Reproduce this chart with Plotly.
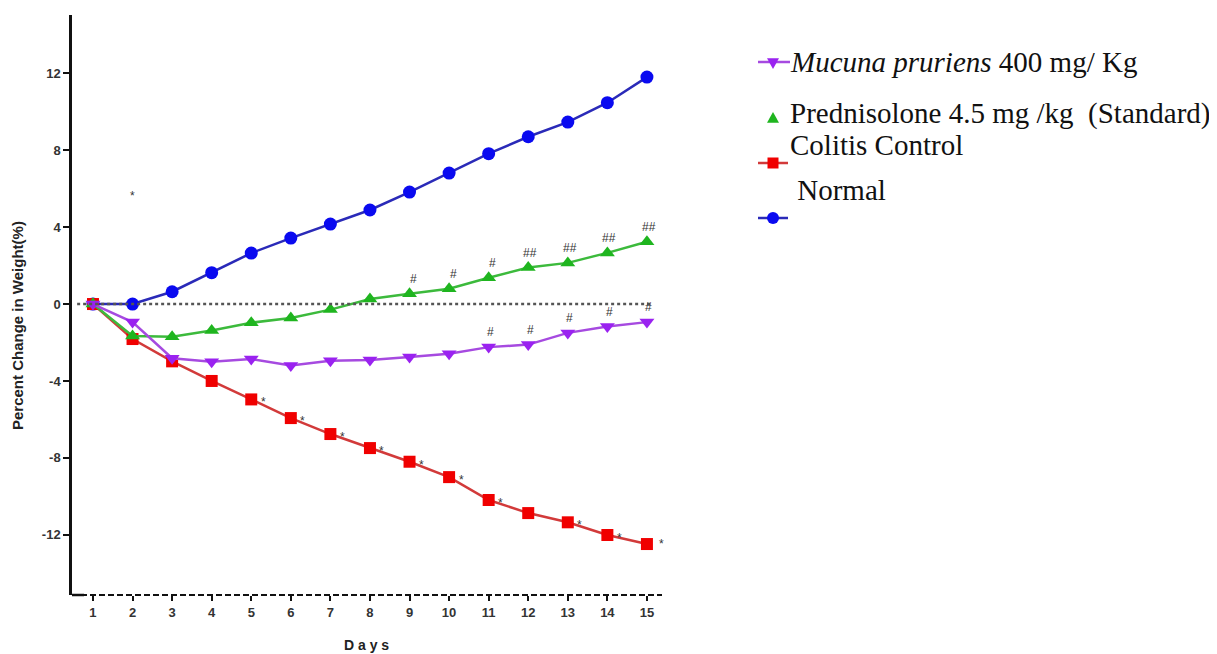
import plotly.graph_objects as go

# ---------------- data ----------------
days = list(range(1, 16))
normal = [0, 0, 0.64, 1.63, 2.65, 3.43, 4.16, 4.89, 5.82, 6.81, 7.82, 8.70, 9.46, 10.47, 11.8]
prednisolone = [0, -1.66, -1.70, -1.38, -0.97, -0.73, -0.29, 0.26, 0.54, 0.80, 1.37, 1.90, 2.14, 2.66, 3.24]
mucuna = [0, -0.94, -2.82, -3.0, -2.86, -3.2, -2.95, -2.91, -2.76, -2.58, -2.24, -2.11, -1.50, -1.17, -0.94]
colitis = [0, -1.82, -2.98, -4.0, -4.96, -5.93, -6.76, -7.49, -8.2, -9.0, -10.19, -10.87, -11.35, -12.01, -12.48]

pred_sig = ["", "", "", "", "", "", "", "", "#", "#", "#", "##", "##", "##", "##"]
mucuna_sig = ["", "", "", "", "", "", "", "", "", "", "#", "#", "#", "#", "#"]
colitis_sig = ["", "", "", "", "*", "*", "*", "*", "*", "*", "*", "", "*", "*", "*"]
normal_star_day = 2
normal_star_value = 5.8

legend_names = ["<i>Mucuna pruriens</i> 400 mg/ Kg",
                "Prednisolone 4.5 mg /kg \u00a0(Standard)",
                "Colitis Control",
                "\u00a0Normal"]

x_ticks = days
y_ticks = [-12, -8, -4, 0, 4, 8, 12]

# ---------------- styling ----------------
OFF = 8  # page body margin of the HTML page
W, H = 1217 - OFF, 654 - OFF
# plot area in screen pixels: x 72..660, y 15..595
SX0, SX1, SY0, SY1 = 72, 660, 15, 595
ML, MT = SX0 - OFF, SY0 - OFF
MR = W - (SX1 - OFF)
MB = H - (SY1 - OFF)
PW, PH = SX1 - SX0, SY1 - SY0

C_BLUE_L, C_BLUE_M = "#2a2ab8", "#0a0af0"
C_RED_L, C_RED_M = "#d23a3a", "#f00000"
C_GRN_L, C_GRN_M = "#3cba3c", "#1fb51f"
C_PUR_L, C_PUR_M = "#a64ae0", "#9a22f0"

def px(xp, yp):
    """screen pixel -> paper coords"""
    return (xp - SX0) / PW, (SY1 - yp) / PH

fig = go.Figure()

series = [
    (normal, C_BLUE_L, C_BLUE_M, "circle", 13),
    (colitis, C_RED_L, C_RED_M, "square", 12),
    (prednisolone, C_GRN_L, C_GRN_M, "triangle-up", 13),
    (mucuna, C_PUR_L, C_PUR_M, "triangle-down", 13),
]
for vals, lc, mc, sym, sz in series:
    fig.add_trace(go.Scatter(
        x=days, y=vals, mode="lines+markers",
        line=dict(color=lc, width=2.5),
        marker=dict(symbol=sym, size=sz, color=mc, line=dict(width=0)),
        showlegend=False, cliponaxis=False,
    ))

annotations = []
sig_font = dict(family="Liberation Sans", size=12, color="#333333")
for d, v, s in zip(days, prednisolone, pred_sig):
    if s:
        annotations.append(dict(x=d, y=v, text=s, showarrow=False, xshift=4 if s == "#" else 2,
                                yshift=15, font=sig_font))
for d, v, s in zip(days, mucuna, mucuna_sig):
    if s:
        annotations.append(dict(x=d, y=v, text=s, showarrow=False, xshift=2,
                                yshift=15, font=sig_font))
for d, v, s in zip(days, colitis, colitis_sig):
    if s:
        annotations.append(dict(x=d, y=v, text=s, showarrow=False,
                                xshift=15 if d == 15 else 12, yshift=0 if d == 15 else -3,
                                font=sig_font))
annotations.append(dict(x=normal_star_day, y=normal_star_value, text="*", showarrow=False,
                        yshift=-3, font=sig_font))

# axis titles
annotations.append(dict(xref="paper", yref="paper", x=px(17, 0)[0], y=px(0, 326)[1],
                        xanchor="center", yanchor="middle",
                        text="<b>Percent Change in Weight(%)</b>", textangle=-90, showarrow=False,
                        font=dict(family="Liberation Sans", size=15, color="#222222")))
annotations.append(dict(xref="paper", yref="paper", x=px(367, 0)[0], y=px(0, 645)[1],
                        xanchor="center", yanchor="middle",
                        text="<b>D a y s</b>", showarrow=False,
                        font=dict(family="Liberation Sans", size=14, color="#222222")))

# manual legend
leg_font = dict(family="Liberation Serif", size=29, color="#111111")
leg_text_pos = [(788, 62), (788, 113), (788, 145), (788, 190)]
for name, (tx, ty) in zip(legend_names, leg_text_pos):
    xx, yy = px(tx, ty)
    annotations.append(dict(xref="paper", yref="paper", x=xx, y=yy, text=name, showarrow=False,
                            xanchor="left", yanchor="middle", font=leg_font))

shapes = []
# zero dotted line
shapes.append(dict(type="line", xref="x", yref="y", x0=0.6, x1=15.1, y0=0, y1=0,
                   line=dict(color="#555555", width=2.5, dash="dot")))
# x axis (dashed look)
shapes.append(dict(type="line", xref="paper", yref="paper", x0=0, x1=px(662, 0)[0], y0=0, y1=0,
                   line=dict(color="#111111", width=2, dash="6px,3px")))
shapes.append(dict(type="line", xref="paper", yref="paper", x0=0, x1=px(84, 0)[0], y0=0, y1=0,
                   line=dict(color="#111111", width=2.5)))

def seg(x0p, x1p, yp, color):
    a = px(x0p, yp); b = px(x1p, yp)
    return dict(type="line", xref="paper", yref="paper", x0=a[0], y0=a[1], x1=b[0], y1=b[1],
                line=dict(color=color, width=2.5))

def tri(cx, cy, r, color, up=True):
    if up:
        pts = [px(cx - r, cy + r * 0.8), px(cx + r, cy + r * 0.8), px(cx, cy - r)]
    else:
        pts = [px(cx - r, cy - r * 0.8), px(cx + r, cy - r * 0.8), px(cx, cy + r)]
    path = "M {},{} L {},{} L {},{} Z".format(pts[0][0], pts[0][1], pts[1][0], pts[1][1],
                                              pts[2][0], pts[2][1])
    return dict(type="path", xref="paper", yref="paper", path=path, fillcolor=color,
                line=dict(width=0))

def box(cx, cy, r, color, kind):
    a = px(cx - r, cy + r); b = px(cx + r, cy - r)
    return dict(type=kind, xref="paper", yref="paper", x0=a[0], y0=a[1], x1=b[0], y1=b[1],
                fillcolor=color, line=dict(width=0))

shapes.append(seg(758, 790, 62, C_PUR_L))
shapes.append(tri(773, 63, 6, C_PUR_M, up=False))
shapes.append(tri(773, 118, 6, C_GRN_M, up=True))
shapes.append(seg(758, 788, 163, C_RED_L))
shapes.append(box(773, 163, 5.5, C_RED_M, "rect"))
shapes.append(seg(758, 788, 218, C_BLUE_L))
shapes.append(box(773, 218, 6, C_BLUE_M, "circle"))

tick_font = dict(family="Liberation Sans", size=13, color="#333333", weight="bold")
fig.update_layout(
    width=W, height=H,
    margin=dict(l=ML, r=MR, t=MT, b=MB),
    paper_bgcolor="white", plot_bgcolor="white",
    showlegend=False,
    annotations=annotations, shapes=shapes,
    xaxis=dict(range=[0.47, 15.33], tickvals=x_ticks, ticktext=[str(d) for d in x_ticks],
               showgrid=False, zeroline=False, showline=False,
               ticks="outside", ticklen=5, tickwidth=1.5, tickcolor="#111111",
               tickfont=tick_font),
    yaxis=dict(range=[-15.13, 15.03], tickvals=y_ticks, ticktext=[str(t) for t in y_ticks],
               showgrid=False, zeroline=False, showline=True, linecolor="#111111", linewidth=2.5,
               ticks="outside", ticklen=6, tickwidth=2, tickcolor="#111111",
               tickfont=tick_font),
)

fig.write_html("out.html")
